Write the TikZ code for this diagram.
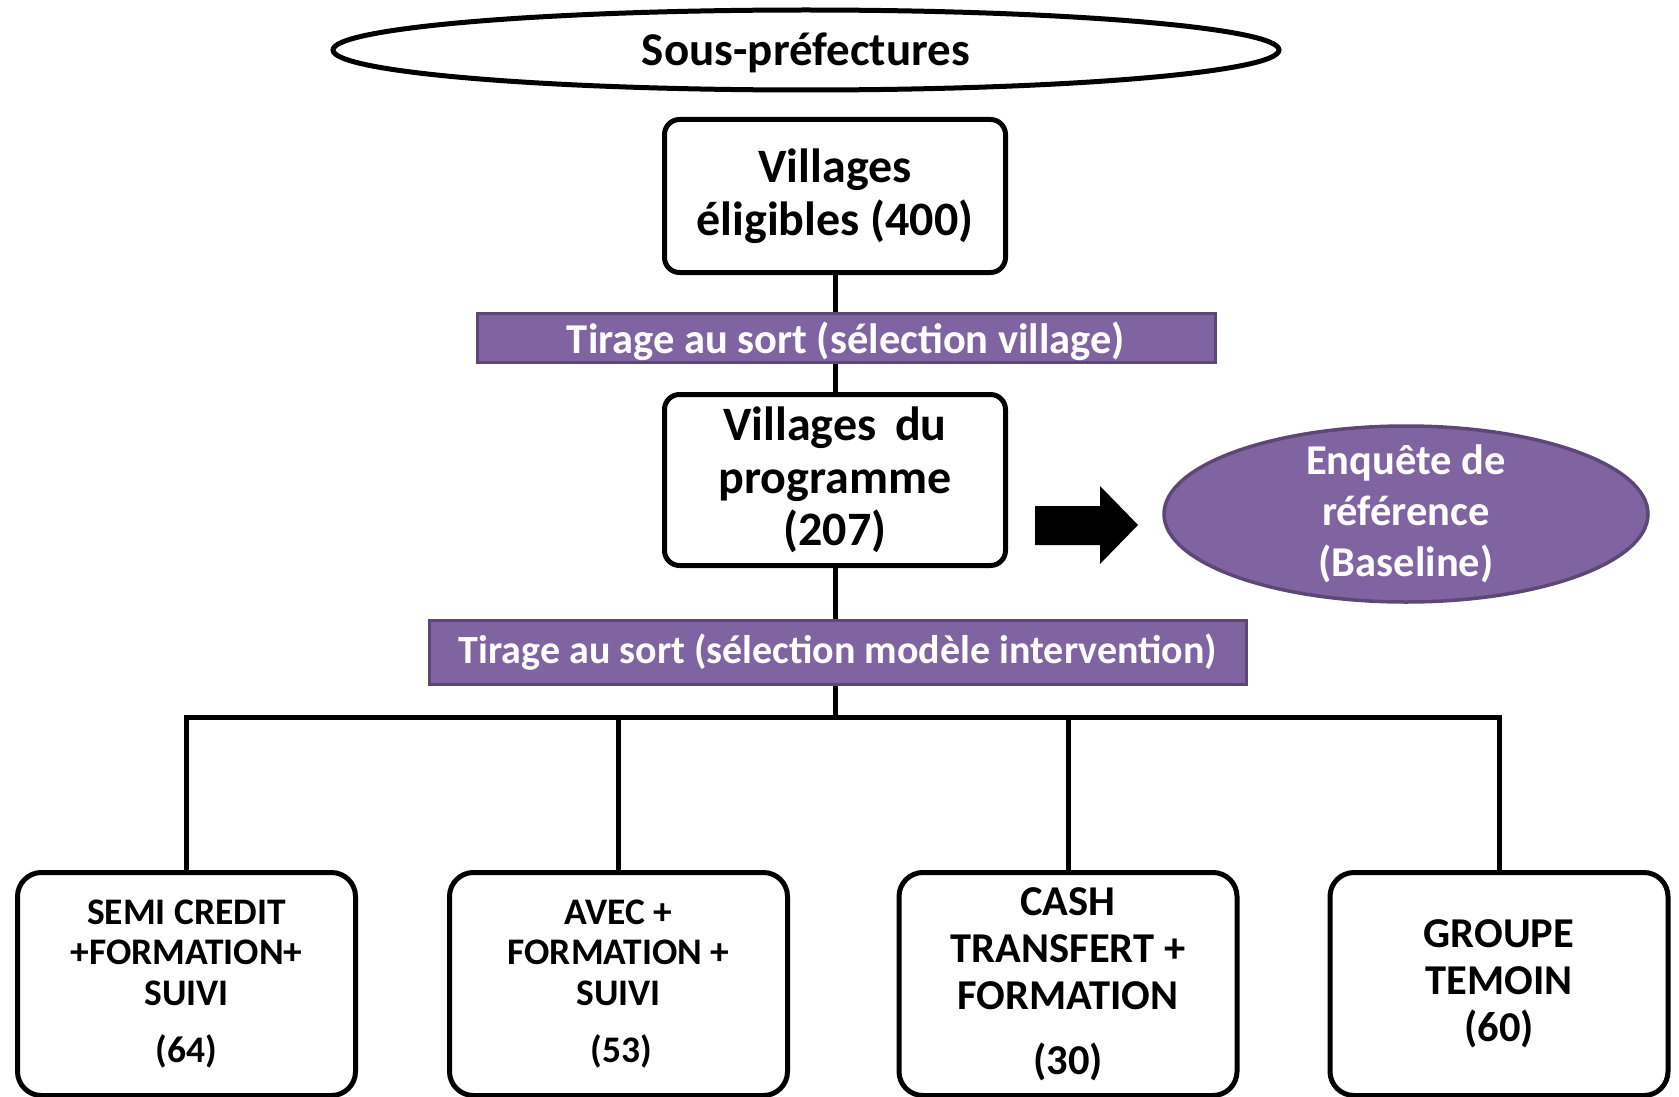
\documentclass[tikz,border=0pt]{standalone}
\usepackage{fontspec}
\setmainfont{Carlito}
\usetikzlibrary{shapes.geometric}
\definecolor{vio}{HTML}{8064A2}
\definecolor{viodark}{HTML}{5C4776}
\begin{document}
\begin{tikzpicture}[x=1pt,y=-1pt,
  line width=5pt,
  mainbox/.style={draw=black, line width=5pt, rounded corners=15pt, fill=white,
    minimum width=341pt, align=center, font=\bfseries\fontsize{48}{52.5}\selectfont},
  leafbox/.style={draw=black, line width=5pt, rounded corners=24pt, fill=white,
    minimum width=338pt, minimum height=223pt, align=center},
  bar/.style={draw=viodark, line width=3pt, fill=vio, text=white, inner sep=0pt},
  conn/.style={draw=black, line width=5pt}
]
\useasboundingbox (0,0) rectangle (1679,1097);

% top ellipse
\node[ellipse, draw=black, line width=5pt, minimum width=946pt, minimum height=80pt,
  inner sep=0pt] (sp) at (806,50) {};
\node[inner sep=0pt, font=\bfseries\fontsize{47}{52}\selectfont] (spt) at ([yshift=-3pt]sp.center) {Sous-préfectures};

% main boxes
\node[mainbox, minimum height=153pt] (v1) at (835,196) {Villages\\éligibles (400)};
\node[mainbox, minimum height=171pt] (v2) at (835,480) {Villages\, du\\programme\\(207)};

% hub
\coordinate (hub) at (835,717.5);

% leaf boxes
\node[leafbox, font=\bfseries\fontsize{37.5}{40.5}\selectfont] (b1) at (186.5,984) {SEMI CREDIT\\+FORMATION+\\SUIVI\\[17pt](64)};
\node[leafbox, font=\bfseries\fontsize{37.5}{40.5}\selectfont] (b2) at (618.5,984) {AVEC +\\FORMATION +\\SUIVI\\[17pt]\,(53)};
\node[leafbox, font=\bfseries\fontsize{42.5}{47}\selectfont] (b3) at (1068,984) {CASH\\TRANSFERT +\\FORMATION\\[18pt](30)};
\node[leafbox, font=\bfseries\fontsize{42.5}{47}\selectfont] (b4) at (1499,984) {GROUPE\\TEMOIN\\(60)};

% connectors
\draw[conn] (v1.south) -- (v2.north);
\draw[conn] (v2.south) -- (hub);
\draw[conn] (b1.north) |- (hub);
\draw[conn] (b2.north) |- (hub);
\draw[conn] (b3.north) |- (hub);
\draw[conn] (b4.north) |- (hub);

% bars
\node[bar, minimum width=738pt, minimum height=49pt] (t1) at (846,337.5) {};
\node[text=white, inner sep=0pt, font=\bfseries\fontsize{42.5}{48}\selectfont] (t1t) at ([yshift=-4pt]t1.center) {Tirage au sort (sélection village)};
\node[bar, minimum width=817pt, minimum height=64pt, font=\bfseries\fontsize{40}{48}\selectfont] (t2) at (838,652) {Tirage au sort (sélection modèle intervention)};

% baseline ellipse
\node[ellipse, draw=viodark, line width=3.5pt, fill=vio,
  minimum width=484pt, minimum height=176pt, inner sep=0pt] (bl) at (1406,514) {};
\node[text=white, align=center, inner sep=0pt,
  font=\bfseries\fontsize{42.5}{51}\selectfont] (blt) at (bl.center) {Enquête de\\référence\\(Baseline)};

% block arrow
\fill[black] (1035,506) -- (1100,506) -- (1100,486) -- (1138,525) -- (1100,564) -- (1100,545) -- (1035,545) -- cycle;
\end{tikzpicture}
\end{document}
